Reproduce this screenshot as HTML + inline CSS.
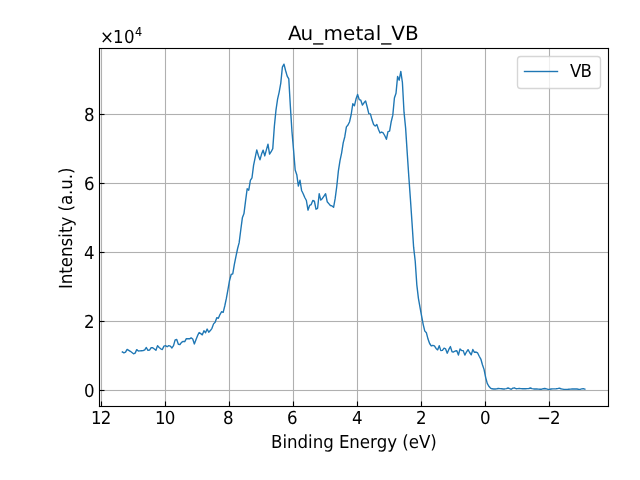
<!DOCTYPE html>
<html lang="en"><head><meta charset="utf-8"><title>Au_metal_VB</title>
<style>html,body{margin:0;padding:0;background:#fff;overflow:hidden}svg{display:block}text{font-family:'DejaVu Sans', 'Liberation Sans', sans-serif;fill:#000;text-rendering:geometricPrecision}</style></head><body>
<svg width="640" height="480" viewBox="0 0 640 480">
<rect x="0" y="0" width="640" height="480" fill="#fff"/>
<g fill="#b0b0b0">
<rect x="100.9445" y="48.5" width="1.111" height="358"/>
<rect x="164.9445" y="48.5" width="1.111" height="358"/>
<rect x="228.9445" y="48.5" width="1.111" height="358"/>
<rect x="292.9445" y="48.5" width="1.111" height="358"/>
<rect x="356.9445" y="48.5" width="1.111" height="358"/>
<rect x="420.9445" y="48.5" width="1.111" height="358"/>
<rect x="484.9445" y="48.5" width="1.111" height="358"/>
<rect x="548.9445" y="48.5" width="1.111" height="358"/>
<rect x="99.5" y="389.9445" width="509" height="1.111"/>
<rect x="99.5" y="320.9445" width="509" height="1.111"/>
<rect x="99.5" y="251.9445" width="509" height="1.111"/>
<rect x="99.5" y="182.9445" width="509" height="1.111"/>
<rect x="99.5" y="113.9445" width="509" height="1.111"/>
</g>
<g fill="#000">
<rect x="100.9445" y="401.5" width="1.111" height="4.7"/>
<rect x="164.9445" y="401.5" width="1.111" height="4.7"/>
<rect x="228.9445" y="401.5" width="1.111" height="4.7"/>
<rect x="292.9445" y="401.5" width="1.111" height="4.7"/>
<rect x="356.9445" y="401.5" width="1.111" height="4.7"/>
<rect x="420.9445" y="401.5" width="1.111" height="4.7"/>
<rect x="484.9445" y="401.5" width="1.111" height="4.7"/>
<rect x="548.9445" y="401.5" width="1.111" height="4.7"/>
<rect x="99.8" y="389.9445" width="4.7" height="1.111"/>
<rect x="99.8" y="320.9445" width="4.7" height="1.111"/>
<rect x="99.8" y="251.9445" width="4.7" height="1.111"/>
<rect x="99.8" y="182.9445" width="4.7" height="1.111"/>
<rect x="99.8" y="113.9445" width="4.7" height="1.111"/>
</g>
<polyline points="122.33,351.91 123.93,352.84 125.53,352.19 127.13,349.38 128.73,350.35 130.33,351.31 131.93,352.54 133.53,353.78 135.13,353.12 136.73,349.66 138.33,350.97 139.93,350.90 141.53,350.78 143.13,350.67 144.73,349.83 146.33,347.50 147.94,350.31 149.54,350.12 151.14,347.69 152.74,347.69 154.34,348.96 155.94,350.31 157.54,345.62 159.14,347.48 160.74,348.82 162.34,349.56 163.94,346.09 165.54,345.62 167.14,346.75 168.74,345.62 170.34,346.09 171.94,347.97 173.54,345.62 175.14,339.81 176.74,339.53 178.34,344.22 179.95,344.50 181.55,342.34 183.15,341.41 184.75,341.69 186.35,338.59 187.95,338.70 189.55,338.78 191.15,337.84 192.75,339.06 194.35,343.94 195.95,339.65 197.55,335.65 199.15,332.50 200.75,333.62 202.35,334.84 203.95,330.81 205.55,332.69 207.15,329.03 208.75,332.22 210.35,330.56 211.96,328.28 213.56,323.88 215.16,322.19 216.76,317.69 218.36,318.25 219.96,314.56 221.56,311.72 223.16,312.38 224.76,305.99 226.36,298.43 227.96,289.69 229.56,280.48 231.16,274.50 232.76,273.94 234.36,264.44 235.96,256.44 237.56,248.75 239.16,242.66 240.76,230.00 242.36,217.81 243.97,213.59 245.57,200.94 247.17,188.75 248.77,190.16 250.37,180.31 251.97,177.97 253.57,165.31 255.17,157.52 256.77,149.84 258.37,155.47 259.97,159.88 261.57,154.06 263.17,150.12 264.77,155.94 266.37,149.84 267.97,144.22 269.57,154.06 271.17,151.72 272.77,148.62 274.37,126.12 275.98,110.19 277.58,99.06 279.18,92.03 280.78,83.12 282.38,67.19 283.98,64.19 285.58,70.47 287.18,76.09 288.78,78.91 290.38,106.59 291.98,131.75 293.58,150.19 295.18,170.00 296.78,174.69 298.38,186.06 299.98,180.16 301.58,190.47 303.18,193.75 304.78,197.50 306.38,200.50 307.99,210.16 309.59,205.47 311.19,204.53 312.79,200.50 314.39,201.25 315.99,209.22 317.59,208.28 319.19,193.75 320.79,200.12 322.39,198.44 323.99,196.09 325.59,193.75 327.19,201.72 328.79,203.59 330.39,205.47 331.99,205.94 333.59,207.34 335.19,198.44 336.79,186.25 338.39,170.94 340.00,160.62 341.60,153.12 343.20,142.81 344.80,136.72 346.40,126.88 348.00,125.00 349.60,121.72 351.20,114.50 352.80,103.75 354.40,105.81 356.00,99.06 357.60,94.38 359.20,99.53 360.80,100.19 362.40,105.16 364.00,102.81 365.60,100.94 367.20,107.03 368.80,113.59 370.40,113.88 372.01,119.84 373.61,124.53 375.21,126.12 376.81,124.53 378.41,129.22 380.01,132.97 381.61,132.03 383.21,132.97 384.81,135.78 386.41,139.25 388.01,131.56 389.61,131.09 391.21,121.72 392.81,115.16 394.41,97.97 396.01,93.28 397.61,76.41 399.21,80.16 400.81,71.44 402.41,82.50 404.02,112.19 405.62,128.12 407.22,152.89 408.82,176.80 410.42,199.14 412.02,222.81 413.62,247.19 415.22,261.25 416.82,284.81 418.42,298.32 420.02,307.46 421.62,316.23 423.22,324.56 424.82,331.12 426.42,332.81 428.02,339.09 429.62,343.50 431.22,345.94 432.82,345.38 434.42,345.94 436.03,348.47 437.63,349.88 439.23,345.66 440.83,350.62 442.43,350.34 444.03,348.19 445.63,348.94 447.23,353.16 448.83,349.41 450.43,346.59 452.03,351.75 453.63,351.94 455.23,351.00 456.83,350.81 458.43,355.03 460.03,348.94 461.63,350.44 463.23,350.62 464.83,355.12 466.43,352.03 468.04,349.69 469.64,352.50 471.24,354.84 472.84,349.50 474.44,352.31 476.04,352.03 477.64,352.97 479.24,356.25 480.84,359.06 482.44,364.69 484.04,369.38 485.64,377.34 487.24,383.44 488.84,386.25 490.44,388.01 492.04,388.76 493.64,388.94 495.24,388.94 496.84,388.76 498.44,388.48 500.05,388.66 501.65,388.76 503.25,388.94 504.85,388.94 506.45,388.66 508.05,388.01 509.65,388.66 511.25,389.23 512.85,388.10 514.45,387.82 516.05,388.76 517.65,388.66 519.25,388.48 520.85,388.66 522.45,388.76 524.05,388.66 525.65,388.76 527.25,388.66 528.85,388.48 530.45,388.01 532.06,388.66 533.66,388.94 535.26,389.00 536.86,389.06 538.46,389.11 540.06,389.30 541.66,389.19 543.26,388.79 544.86,388.48 546.46,388.94 548.06,389.41 549.66,389.27 551.26,389.06 552.86,388.90 554.46,388.82 556.06,388.76 557.66,388.66 559.26,388.19 560.86,388.76 562.46,389.06 564.07,389.41 565.67,389.41 567.27,389.41 568.87,389.20 570.47,389.13 572.07,389.04 573.67,388.96 575.27,388.85 576.87,389.04 578.47,389.29 580.07,389.41 581.67,388.94 583.27,388.66 584.87,389.23" fill="none" stroke="#1f77b4" stroke-width="1.389" stroke-linejoin="round" stroke-linecap="square"/>
<g fill="#000">
<rect x="98.9445" y="47.9445" width="1.111" height="359.111"/>
<rect x="607.9445" y="47.9445" width="1.111" height="359.111"/>
<rect x="98.9445" y="405.9445" width="510.111" height="1.111"/>
<rect x="98.9445" y="47.9445" width="510.111" height="1.111"/>
</g>
<rect x="517.5" y="56.5" width="83" height="32" rx="3.2" ry="3.2" fill="#fff" fill-opacity="0.8" stroke="#ccc" stroke-opacity="0.8" stroke-width="1.389"/>
<rect x="523.8055" y="70.8055" width="34.389" height="1.389" fill="#1f77b4"/>
<g>
<text transform="translate(536.25 424) scale(1 1.08)" x="0.75 13.625" y="0" font-size="16.667">−2</text>
<text transform="translate(479.875 424) scale(1 1.08)" x="0.125" y="0" font-size="16.667">0</text>
<text transform="translate(415.75 424) scale(1 1.08)" x="0.25" y="0" font-size="16.667">2</text>
<text transform="translate(351.25 424) scale(1 1.08)" x="0.75" y="0" font-size="16.667">4</text>
<text transform="translate(286.875 424) scale(1 1.08)" x="0.125" y="0" font-size="16.667">6</text>
<text transform="translate(222.875 424) scale(1 1.08)" x="0.125" y="0" font-size="16.667">8</text>
<text transform="translate(154.125 424) scale(1 1.08)" x="0.875 10.5" y="0" font-size="16.667">10</text>
<text transform="translate(90.125 424) scale(1 1.08)" x="0.875 10.5" y="0" font-size="16.667">12</text>
<text transform="translate(271 448) scale(1 1.08)" x="0 11.375 16 26.5 37 41.625 52.125 62.625 67.875 78.25 88.75 99 105.625 116.125 126 131.25 137.625 147.875 159.25" y="0" font-size="16.667">Binding Energy (eV)</text>
<text transform="translate(72 289) rotate(-90) scale(1 1.08)" x="0 4.875 15.375 21.875 32.125 42.625 51.375 56 62.5 72.375 77.625 84 94.125 99.375 109.875 115.125" y="0" font-size="16.667">Intensity (a.u.)</text>
<text transform="translate(287.844 40) scale(1 0.98)" x="0.156 12.781 25.531 35.656 55.281 67.656 75.531 87.906 93.406 103.531 117.156" y="0" font-size="20">Au_metal_VB</text>
<text transform="translate(569.875 77) scale(1 1.08)" x="0.125 10.5" y="0" font-size="16.667">VB</text>
<text transform="translate(83.9 397) scale(1 1.08)" x="0" y="0" font-size="16.667">0</text>
<text transform="translate(83.9 328) scale(1 1.08)" x="0" y="0" font-size="16.667">2</text>
<text transform="translate(83.9 259) scale(1 1.08)" x="0" y="0" font-size="16.667">4</text>
<text transform="translate(83.9 190) scale(1 1.08)" x="0" y="0" font-size="16.667">6</text>
<text transform="translate(83.9 121) scale(1 1.08)" x="0" y="0" font-size="16.667">8</text>
<text transform="translate(100 43) scale(1 1.08)" font-size="16.667"><tspan x="0 13 23.9" y="0">×10</tspan><tspan x="35" y="-6.481" font-size="11.3">4</tspan></text>
</g>
</svg></body></html>
